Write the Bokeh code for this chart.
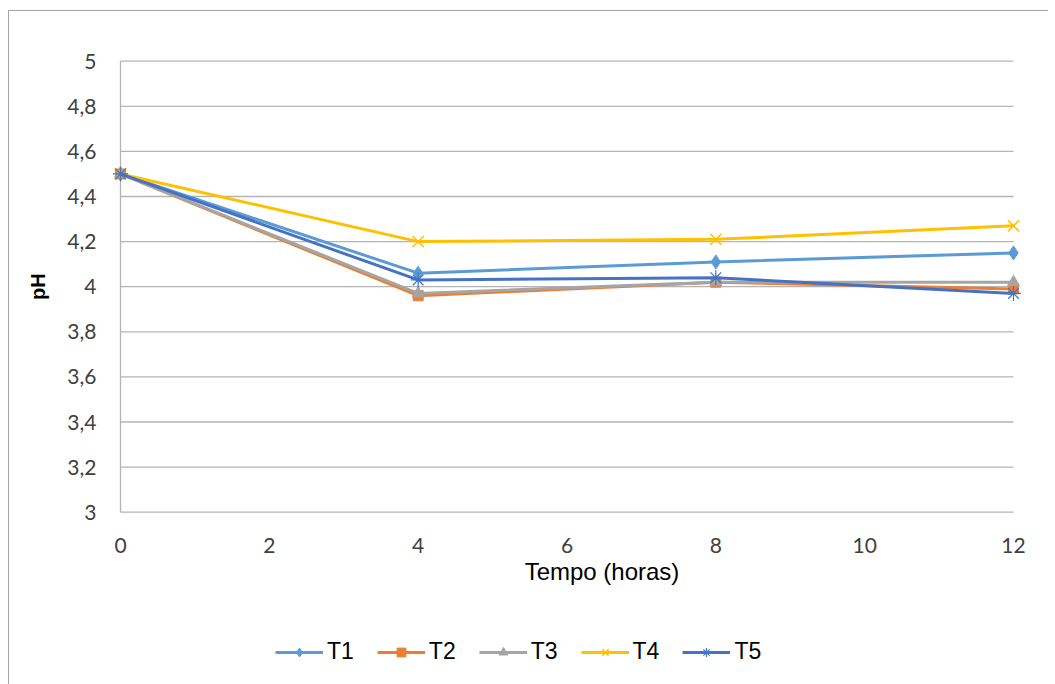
import math
from bokeh.plotting import figure
from bokeh.models import Range1d, Legend
from bokeh.core.properties import value
from bokeh.embed import file_html
from bokeh.resources import INLINE

# ---- data ----
hours = [0, 4, 8, 12]
t1 = [4.50, 4.06, 4.11, 4.15]
t2 = [4.50, 3.96, 4.02, 3.99]
t3 = [4.50, 3.97, 4.02, 4.02]
t4 = [4.50, 4.20, 4.21, 4.27]
t5 = [4.50, 4.03, 4.04, 3.97]
series_names = ["T1", "T2", "T3", "T4", "T5"]
x_ticks = [0, 2, 4, 6, 8, 10, 12]
x_tick_labels = ["0", "2", "4", "6", "8", "10", "12"]
y_ticks = [3, 3.2, 3.4, 3.6, 3.8, 4, 4.2, 4.4, 4.6, 4.8, 5]
y_tick_labels = ["3", "3,2", "3,4", "3,6", "3,8", "4", "4,2", "4,4", "4,6", "4,8", "5"]
x_title = "Tempo (horas)"
y_title = "pH"

colors = ["#5B9BD5", "#ED7D31", "#A5A5A5", "#FFC000", "#4472C4"]
markers = ["diamond", "square", "triangle", "x", "asterisk"]
msizes = [14, 10, 12, 16, 15]
mlw = [1, 1, 1, 1.5, 1.2]

x_lo, x_hi = x_ticks[0], x_ticks[-1]
y_lo, y_hi = y_ticks[0], y_ticks[-1]

# The frame covers the whole chart box so that legend and labels sit inside it
p = figure(
    frame_width=1039, frame_height=674,
    min_border_left=0, min_border_right=0,
    min_border_top=0, min_border_bottom=0,
    x_range=Range1d(x_lo - 1.4916, x_hi + 0.4703),
    y_range=Range1d(y_lo - 0.7685, y_hi + 0.2204),
    output_backend="svg", toolbar_location=None,
    background_fill_color="white", border_fill_color="white",
    outline_line_color=None,
)
p.margin = (10, 0, 0, 8)
p.styles = {"border-top": "1px solid #A6A6A6", "border-left": "1px solid #A6A6A6"}

p.xgrid.visible = False
p.ygrid.visible = False
p.xaxis.visible = False
p.yaxis.visible = False

grid_color = "#B4B4B4"
n = len(y_ticks)
p.segment(x0=[x_lo] * n, x1=[x_hi] * n, y0=y_ticks, y1=y_ticks,
          line_color=grid_color, line_width=1.3)
p.segment(x0=[x_lo], x1=[x_lo], y0=[y_lo], y1=[y_hi],
          line_color=grid_color, line_width=1.3)

# tick labels and titles, placed through the data scales
p.text(x=x_ticks, y=[y_lo] * len(x_ticks), text=x_tick_labels,
       text_font=value("Lato"), text_font_size="21px", text_color="#404040",
       text_align="center", text_baseline="alphabetic", y_offset=33)
p.text(x=[x_lo] * len(y_ticks), y=y_ticks, text=y_tick_labels,
       text_font=value("Lato"), text_font_size="21px", text_color="#404040",
       text_align="right", text_baseline="middle", x_offset=-24)
p.text(x=[(x_lo + x_hi) / 2], y=[y_lo], text=[x_title],
       text_font=value("Liberation Sans"), text_font_size="24px",
       text_color="#000000", text_align="center", text_baseline="alphabetic",
       x_offset=35, y_offset=59)
p.text(x=[x_lo], y=[(y_lo + y_hi) / 2], text=[y_title],
       text_font=value("Liberation Sans"), text_font_size="20px",
       text_font_style="bold", text_color="#000000",
       text_align="center", text_baseline="middle",
       angle=math.pi / 2, x_offset=-83)

data = [t1, t2, t3, t4, t5]
items = []
for name, vals, c, m, s, lw in zip(series_names, data, colors, markers, msizes, mlw):
    r1 = p.line(hours, vals, line_color=c, line_width=3)
    r2 = p.scatter(hours, vals, marker=m, size=s, fill_color=c,
                   line_color=c, line_width=lw)
    items.append((name, [r1, r2]))

legend = Legend(items=items, orientation="horizontal",
                location=(266, 20),
                glyph_width=48, glyph_height=22, label_standoff=4,
                spacing=23, padding=0, margin=0,
                label_text_font="Liberation Sans", label_text_font_size="23px",
                label_text_color="#000000",
                border_line_color=None, background_fill_alpha=0)
p.add_layout(legend, "center")

open("out.html", "w").write(file_html(p, INLINE))
